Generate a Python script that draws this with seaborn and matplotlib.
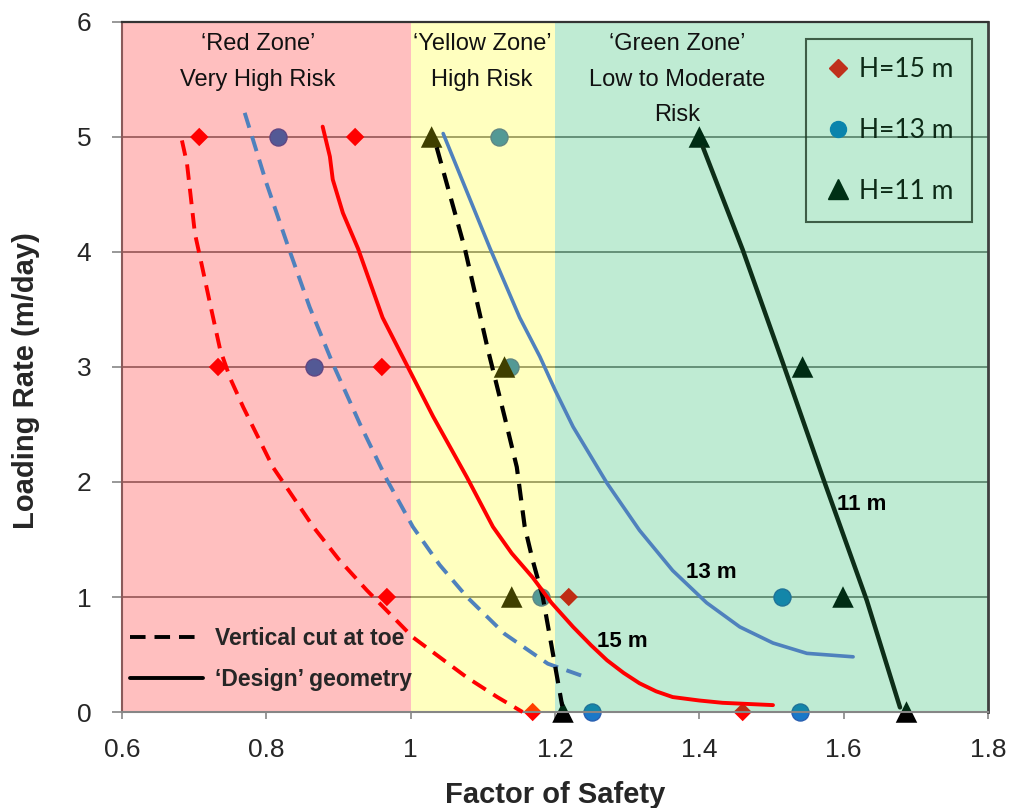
import matplotlib
matplotlib.use("Agg")
import matplotlib.pyplot as plt
import seaborn as sns
from matplotlib.lines import Line2D

# ---------------- data ----------------
zone_edges = [0.6, 1.0, 1.2, 1.8]
zone_titles = ["\u2018Red Zone\u2019\nVery High Risk",
               "\u2018Yellow Zone\u2019\nHigh Risk",
               "\u2018Green Zone\u2019\nLow to Moderate\nRisk"]

load_rate = [5, 5, 3, 3, 1, 1, 0, 0]
fos_15 = [0.707, 0.923, 0.733, 0.960, 0.967, 1.219, 1.169, 1.460]
fos_13 = [0.816, 1.122, 0.866, 1.137, 1.180, 1.514, 1.251, 1.539]
fos_11 = [1.029, 1.400, 1.130, 1.543, 1.140, 1.599, 1.211, 1.687]

# vertical cut at toe (dashed)
cut15_x = [0.683, 0.690, 0.701, 0.708, 0.722, 0.736, 0.750, 0.768, 0.809, 0.865, 0.900, 0.939, 1.003, 1.078, 1.120, 1.155]
cut15_y = [4.97, 4.77, 4.16, 3.96, 3.55, 3.15, 2.90, 2.65, 2.13, 1.61, 1.33, 1.06, 0.65, 0.30, 0.13, 0.0]
cut13_x = [0.770, 0.800, 0.830, 0.860, 0.892, 0.930, 0.967, 1.003, 1.040, 1.078, 1.130, 1.190, 1.244]
cut13_y = [5.21, 4.60, 4.05, 3.52, 3.03, 2.50, 2.02, 1.61, 1.28, 1.00, 0.68, 0.42, 0.30]
cut11_x = [1.036, 1.075, 1.107, 1.130, 1.147, 1.158, 1.169, 1.183, 1.197, 1.210]
cut11_y = [4.91, 4.03, 3.15, 2.57, 2.13, 1.61, 1.32, 1.00, 0.51, 0.05]

# 'design' geometry (solid)
des15_x = [0.878, 0.888, 0.892, 0.906, 0.927, 0.961, 0.996, 1.031, 1.078, 1.114, 1.140, 1.169, 1.195, 1.225, 1.250, 1.272, 1.295, 1.317, 1.340, 1.363, 1.400, 1.432, 1.502]
des15_y = [5.09, 4.83, 4.63, 4.34, 4.03, 3.43, 3.00, 2.57, 2.04, 1.61, 1.38, 1.17, 0.95, 0.74, 0.58, 0.45, 0.34, 0.25, 0.18, 0.13, 0.10, 0.08, 0.06]
des13_x = [1.045, 1.110, 1.151, 1.179, 1.200, 1.225, 1.272, 1.317, 1.363, 1.410, 1.456, 1.502, 1.549, 1.613]
des13_y = [5.03, 4.03, 3.43, 3.09, 2.80, 2.48, 1.99, 1.58, 1.23, 0.95, 0.74, 0.60, 0.51, 0.48]
des11_x = [1.405, 1.460, 1.516, 1.571, 1.632, 1.678]
des11_y = [4.91, 4.02, 3.03, 2.04, 0.97, 0.04]

x_ticks = [0.6, 0.8, 1.0, 1.2, 1.4, 1.6, 1.8]
x_tick_labels = ["0.6", "0.8", "1", "1.2", "1.4", "1.6", "1.8"]
y_ticks = [0, 1, 2, 3, 4, 5, 6]
series_labels = ["H=15 m", "H=13 m", "H=11 m"]
style_labels = ["Vertical cut at toe", "\u2018Design\u2019 geometry"]
curve_labels = ["15 m", "13 m", "11 m"]

# ---------------- style ----------------
sns.set_style("white")
plt.rcParams["font.family"] = ["Liberation Sans", "DejaVu Sans"]

fig, ax = plt.subplots(figsize=(10.11, 8.08), dpi=100)
fig.subplots_adjust(left=0.1207, right=0.9773, bottom=0.1188, top=0.9728)

ax.set_xlim(0.6, 1.8)
ax.set_ylim(0, 6)

# gridlines (under everything)
ax.set_axisbelow(True)
ax.grid(axis="y", color="#868686", lw=1.4)
ax.grid(axis="x", visible=False)

# markers (drawn under the translucent zone overlays)
sns.scatterplot(x=fos_13, y=load_rate, marker="o", color="#1a78c8", s=150,
                edgecolor="#2a5fb0", linewidth=1.0, ax=ax, zorder=1.2,
                clip_on=False, legend=False)
sns.scatterplot(x=fos_15, y=load_rate, marker="D", color="#FF0000", s=88,
                edgecolor="none", ax=ax, zorder=1.3, clip_on=False, legend=False)
sns.scatterplot(x=fos_11, y=load_rate, marker="^", color="#000000", s=240,
                edgecolor="none", ax=ax, zorder=1.4, clip_on=False, legend=False)

# translucent zones
zone_colors = ["#FF0000", "#FFFF00", "#00B050"]
for x0, x1, c in zip(zone_edges[:-1], zone_edges[1:], zone_colors):
    ax.axvspan(x0, x1, color=c, alpha=0.25, lw=0, zorder=2)


def curve(xs, ys, color, lw, dashes=None):
    sns.lineplot(x=xs, y=ys, sort=False, estimator=None, color=color, lw=lw,
                 ax=ax, zorder=3)
    line = ax.lines[-1]
    line.set_solid_joinstyle("round")
    line.set_dash_joinstyle("round")
    if dashes is not None:
        line.set_dashes(dashes)
    line.set_clip_on(False)


curve(cut15_x, cut15_y, "#FF0000", 2.8, (4.0, 2.3))
curve(cut13_x, cut13_y, "#4F81BD", 2.8, (4.0, 2.3))
curve(cut11_x, cut11_y, "#000000", 3.0, (4.0, 2.4))
curve(des15_x, des15_y, "#FF0000", 2.8)
curve(des13_x, des13_y, "#4F81BD", 2.6)
curve(des11_x, des11_y, "#0d2e18", 3.2)

# zone titles
zone_text_x = [0.788, 1.099, 1.369]
for x, t in zip(zone_text_x, zone_titles):
    ax.text(x, 5.90, t, ha="center", va="top", fontsize=17, linespacing=1.78,
            color="#111111", zorder=5)

# curve labels
curve_label_pos = [(1.293, 0.61), (1.416, 1.21), (1.625, 1.80)]
for (x, y), t in zip(curve_label_pos, curve_labels):
    ax.text(x, y, t, ha="center", va="center", fontsize=16, fontweight="bold",
            color="#000000", zorder=5)

# axes cosmetics
ax.set_xticks(x_ticks)
ax.set_xticklabels(x_tick_labels)
ax.set_yticks(y_ticks)
ax.set_yticklabels([str(v) for v in y_ticks])
ax.tick_params(axis="x", labelsize=19, length=5, width=1.2, color="#868686",
               pad=14, bottom=True, direction="out")
ax.tick_params(axis="y", labelsize=19, length=7, width=1.2, color="#868686",
               pad=15, left=True, direction="out")

ax.spines["left"].set_color("#8a5a5a")
ax.spines["left"].set_linewidth(1.5)
ax.spines["bottom"].set_color("#868686")
ax.spines["bottom"].set_linewidth(1.5)
ax.spines["top"].set_color("#333333")
ax.spines["top"].set_linewidth(1.6)
ax.spines["right"].set_color("#404040")
ax.spines["right"].set_linewidth(2.0)

ax.set_xlabel("Factor of Safety", fontsize=21, fontweight="bold")
ax.set_ylabel("Loading Rate (m/day)", fontsize=21, fontweight="bold")
ax.xaxis.set_label_coords(0.5, -0.1)
ax.yaxis.set_label_coords(-0.095, 0.48)

# legend: line styles
style_handles = [Line2D([0], [0], color="black", lw=2.8, dashes=(4.0, 2.3)),
                 Line2D([0], [0], color="black", lw=2.8)]
leg2 = ax.legend(style_handles, style_labels, loc="lower left",
                 bbox_to_anchor=(0.0092, 0.03), frameon=False,
                 prop={"size": 16.5, "weight": "bold"}, handlelength=3.2,
                 handletextpad=0.5, labelspacing=0.78, borderpad=0,
                 borderaxespad=0)
ax.add_artist(leg2)

# legend: series markers
series_handles = [
    Line2D([0], [0], marker="D", color="#c0301c", ls="none", ms=9.5),
    Line2D([0], [0], marker="o", color="#0a84ac", ls="none", ms=11.5),
    Line2D([0], [0], marker="^", color="#003015", ls="none", ms=14.5),
]
leg1 = ax.legend(series_handles, series_labels, loc="upper right",
                 bbox_to_anchor=(0.9815, 0.9754), frameon=True, fancybox=False,
                 prop={"family": ["Lato", "DejaVu Sans"], "size": 19},
                 handlelength=1.0, handletextpad=0.3, labelspacing=1.35,
                 borderpad=0.7, borderaxespad=0)
leg1.get_frame().set_facecolor("none")
leg1.get_frame().set_edgecolor("#1e3a24")
leg1.get_frame().set_linewidth(1.5)
for t in leg1.get_texts():
    t.set_color("#0d2a17")

fig.savefig("out.png", dpi=100)
